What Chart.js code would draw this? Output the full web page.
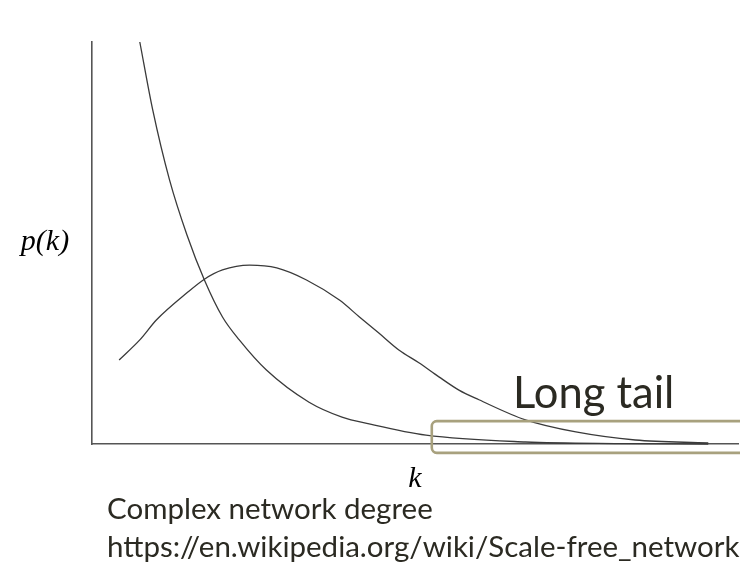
<!DOCTYPE html>
<html>
<head>
<meta charset="utf-8">
<title>Long tail</title>
<script src="https://cdn.jsdelivr.net/npm/chart.js@4.4.1/dist/chart.umd.min.js"></script>
<style>
    html, body { margin: 0; padding: 0; background: #fff; }
    #wrap { width: 740px; height: 564px; position: relative; }
</style>
</head>
<body>
<div id="wrap"><canvas id="degree-chart"></canvas></div>
<script>
// power law curve (k, p(k)), axes scaled 0..100
var powerK = [7.4, 9.4, 12.0, 14.7, 17.4, 20.2, 22.8, 27.0, 33.6, 38.7, 42.9, 51.7, 67.1, 81.5, 95.4];
var powerP = [100, 83.1, 65.7, 52.0, 40.8, 31.6, 25.9, 18.4, 10.4, 6.7, 5.0, 2.2, 0.5, 0.1, 0];

// bell shaped curve
var peakK = [4.2, 7.4, 10.0, 14.7, 17.4, 20.2, 24.4, 28.6, 33.2, 38.3, 41.4, 44.4, 47.5, 50.6, 53.7, 56.8, 59.9, 67.1, 74.9, 84.1, 95.4];
var peakP = [20.9, 25.9, 30.9, 37.6, 41.0, 43.3, 44.5, 43.8, 40.8, 35.8, 31.6, 27.6, 23.4, 20.2, 16.7, 13.4, 11.0, 6.0, 3.0, 1.0, 0.25];

// long tail box range (k from, k to, p from, p to)
var tailBox = [52.6, 104, -2.2, 5.7];

var labels = {
    yTitle: 'p(k)',
    xTitle: 'k',
    tail: 'Long tail',
    caption: 'Complex network degree',
    source: 'https://en.wikipedia.org/wiki/Scale-free_network'
};

function toPoints(xs, ys) {
    var pts = [];
    for (var i = 0; i < xs.length; i++) {
        pts.push({x: xs[i], y: ys[i]});
    }
    return pts;
}

var textPlugin = {
    id: 'textPlugin',
    afterDraw: function (chart) {
        var ctx = chart.ctx;
        var xs = chart.scales.x;
        var ys = chart.scales.y;
        ctx.save();

        // long tail box
        var bx1 = xs.getPixelForValue(tailBox[0]);
        var bx2 = xs.getPixelForValue(tailBox[1]);
        var by1 = ys.getPixelForValue(tailBox[3]);
        var by2 = ys.getPixelForValue(tailBox[2]);
        ctx.strokeStyle = '#a8a17e';
        ctx.lineWidth = 2.6;
        ctx.beginPath();
        ctx.roundRect(bx1, by1, bx2 - bx1, by2 - by1, 5);
        ctx.stroke();

        ctx.fillStyle = '#2b2a22';
        ctx.textBaseline = 'alphabetic';
        ctx.font = '43.5px Lato';
        ctx.fillText(labels.tail, 513, 408);

        ctx.font = '29.5px Lato';
        ctx.fillText(labels.caption, 107, 519);
        ctx.fillText(labels.source, 107, 557);

        ctx.fillStyle = '#000';
        ctx.font = 'italic 30px "Liberation Serif"';
        ctx.textAlign = 'center';
        ctx.fillText(labels.yTitle, 45, 250);
        ctx.fillText(labels.xTitle, 415, 487);
        ctx.restore();
    }
};

var cDegree = document.getElementById('degree-chart').getContext('2d');
var chart1 = new Chart(cDegree, {
    type: 'scatter',
    data: {
        datasets: [{
            data: toPoints(powerK, powerP),
            showLine: true,
            borderColor: '#3a3a3a',
            borderWidth: 1.3,
            pointRadius: 0,
            cubicInterpolationMode: 'monotone',
            clip: false
        }, {
            data: toPoints(peakK, peakP),
            showLine: true,
            borderColor: '#3a3a3a',
            borderWidth: 1.3,
            pointRadius: 0,
            cubicInterpolationMode: 'monotone',
            clip: false
        }]
    },
    options: {
        responsive: true,
        maintainAspectRatio: false,
        animation: false,
        layout: {
            padding: {left: 92, top: 42, right: 2, bottom: 120}
        },
        plugins: {
            legend: {display: false},
            tooltip: {enabled: false}
        },
        scales: {
            x: {
                type: 'linear',
                min: 0,
                max: 100,
                grid: {display: false, drawTicks: false},
                ticks: {display: false},
                border: {display: true, color: '#555', width: 1.6}
            },
            y: {
                type: 'linear',
                min: 0,
                max: 100,
                grid: {display: false, drawTicks: false},
                ticks: {display: false},
                border: {display: true, color: '#555', width: 1.6}
            }
        }
    },
    plugins: [textPlugin]
});
</script>
</body>
</html>
